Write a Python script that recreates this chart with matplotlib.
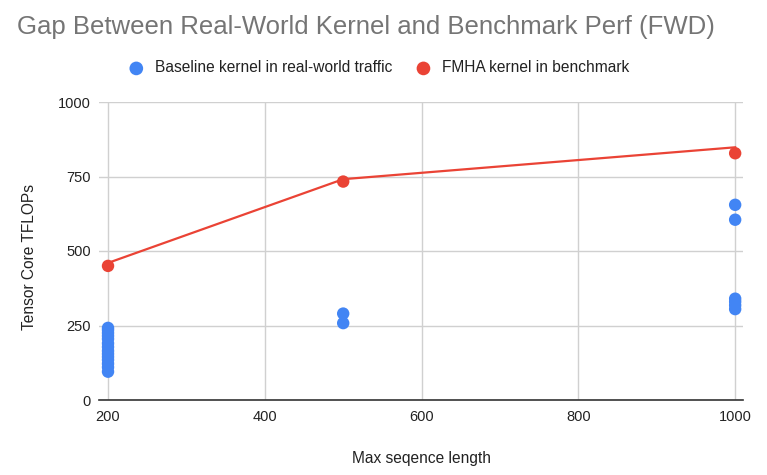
import matplotlib
matplotlib.use("Agg")
import matplotlib.pyplot as plt

plt.rcParams['font.family'] = ['Liberation Sans', 'DejaVu Sans']

# Baseline kernel in real-world traffic
base_x = [200] * 14 + [500, 500] + [1000] * 6
base_y = [242, 235, 225, 215, 205, 190, 178, 165, 155, 145, 135, 122, 110, 95,
          290, 258,
          655, 605, 340, 330, 318, 305]

# FMHA kernel in benchmark
fmha_x = [200, 500, 1000]
fmha_y = [450, 733, 828]
# trend line drawn over the benchmark points
line_y = [460, 741, 848]

xticks = [200, 400, 600, 800, 1000]
yticks = [0, 250, 500, 750, 1000]

blue = '#4285F4'
red = '#EA4335'

fig = plt.figure(figsize=(7.67, 4.75), dpi=100)
ax = fig.add_axes([99 / 767, 75 / 475, 644 / 767, 298 / 475])

ax.plot(fmha_x, line_y, color=red, linewidth=1.6, zorder=3)
ax.scatter(base_x, base_y, s=80, color=blue, edgecolors='none', zorder=4,
           label='Baseline kernel in real-world traffic')
ax.scatter(fmha_x, fmha_y, s=80, color=red, edgecolors='none', zorder=5,
           label='FMHA kernel in benchmark')

ax.set_xlim(188.5, 1010)
ax.set_ylim(0, 1000)
ax.set_xticks(xticks)
ax.set_yticks(yticks)
ax.grid(color='#d0d0d0', linewidth=1)
ax.set_axisbelow(True)
for side in ['top', 'right', 'left']:
    ax.spines[side].set_visible(False)
ax.spines['bottom'].set_color('#333333')
ax.spines['bottom'].set_linewidth(1.2)
ax.tick_params(length=0, labelsize=10.5, colors='#222222')
ax.tick_params(axis='y', pad=6)
ax.tick_params(axis='x', pad=7)

# axis titles
fig.text(421 / 767, 1 - 459 / 475, 'Max seqence length', fontsize=11.2,
         color='#222222', ha='center', va='center')
fig.text(30 / 767, 1 - 257 / 475, 'Tensor Core TFLOPs', fontsize=11.2,
         color='#222222', ha='center', va='center', rotation=90)

fig.text(17 / 767, 1 - 27 / 475, 'Gap Between Real-World Kernel and Benchmark Perf (FWD)',
         fontsize=18.5, color='#757575', va='center', ha='left')

fig.legend(loc='center', bbox_to_anchor=(0.489, 1 - 68 / 475), ncol=2, frameon=False,
           fontsize=11.2, handletextpad=0.2, columnspacing=1.0, markerscale=1.1,
           labelcolor='#222222')

fig.savefig('out.png', dpi=100)
